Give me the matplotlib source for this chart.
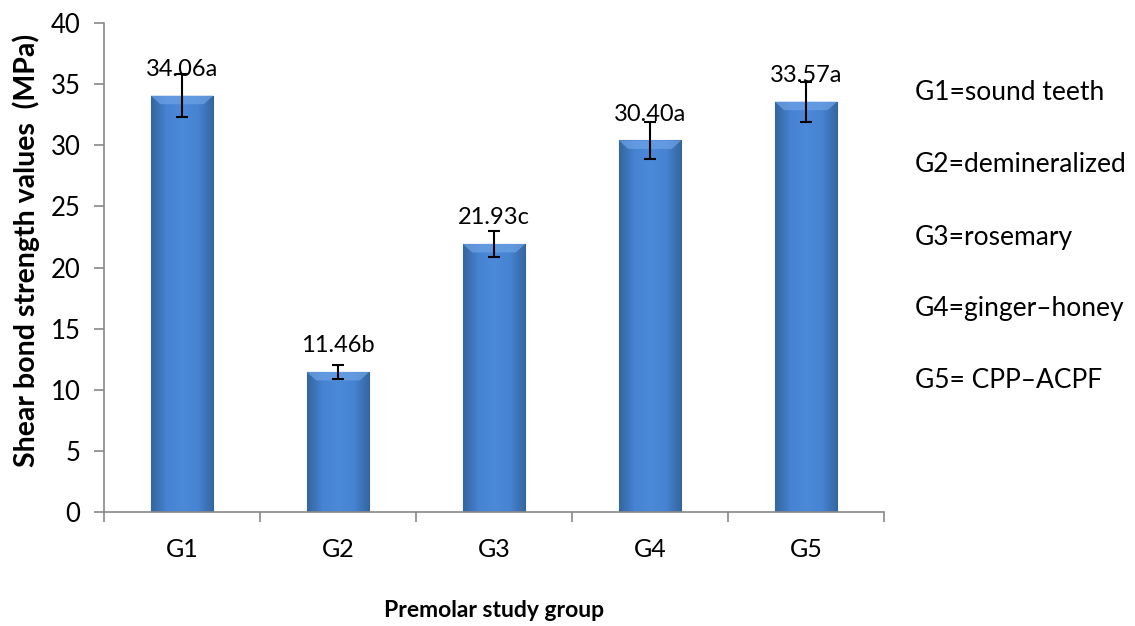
import numpy as np
import matplotlib
matplotlib.use("Agg")
import matplotlib.pyplot as plt
from matplotlib.colors import LinearSegmentedColormap

groups = ["G1", "G2", "G3", "G4", "G5"]
means = [34.06, 11.46, 21.93, 30.40, 33.57]
errors = [1.75, 0.57, 1.06, 1.50, 1.63]
letters = ["a", "b", "c", "a", "a"]
legend_lines = ["G1=sound teeth", "G2=demineralized", "G3=rosemary",
                "G4=ginger\u2013honey", "G5= CPP\u2013ACPF"]

plt.rcParams['font.family'] = ['Lato', 'DejaVu Sans']

fig = plt.figure(figsize=(11.35, 6.26), dpi=100)
ax = fig.add_axes([104/1135, (626-512)/626, (884-104)/1135, (512-23)/626])

x = np.arange(len(groups))
bars = ax.bar(x, means, width=0.4, color='#4a84d0', edgecolor='#3a68a8',
              linewidth=0.8, zorder=2)

# horizontal shading so the bars look like the 3D-ish excel bars
cmap = LinearSegmentedColormap.from_list(
    "barshade", ["#34659f", "#4683d2", "#4b8ad9", "#4683d2", "#34659f"])
grad = np.linspace(0, 1, 200).reshape(1, -1)
for b in bars:
    x0, y0 = b.get_x(), b.get_y()
    w, h = b.get_width(), b.get_height()
    im = ax.imshow(grad, cmap=cmap, aspect='auto', extent=[x0, x0 + w, y0, y0 + h],
                   zorder=2.5, interpolation='bicubic')
    im.set_clip_path(b)
    # lighter bevel at the top
    ax.fill([x0, x0 + w, x0 + w*0.85, x0 + w*0.15], [h, h, h - 0.7, h - 0.7],
            color='#6ea3e6', alpha=0.7, zorder=2.6, lw=0)

ax.errorbar(x, means, yerr=errors, fmt='none', ecolor='black', elinewidth=1.5,
            capsize=4.3, capthick=1.5, zorder=4)

for xi, m, l in zip(x, means, letters):
    ax.annotate(f"{m:.2f}{l}", (xi, m), xytext=(0, 14), textcoords='offset points',
                ha='center', va='baseline', fontsize=17, zorder=5)

ax.set_xlim(-0.5, len(groups) - 0.5)
ax.set_ylim(0, 40)
ax.set_yticks(range(0, 41, 5))
ax.set_xticks(x)
ax.set_xticklabels(groups)
ax.set_xticks(np.arange(-0.5, len(groups), 1), minor=True)
ax.tick_params(axis='x', which='major', length=0, pad=19, labelsize=18)
ax.tick_params(axis='x', which='minor', length=7, color='#888888', width=1.2)
ax.tick_params(axis='y', length=7, color='#888888', width=1.2, labelsize=18.5, pad=10)

for s in ['top', 'right']:
    ax.spines[s].set_visible(False)
for s in ['left', 'bottom']:
    ax.spines[s].set_color('#888888')
    ax.spines[s].set_linewidth(1.2)

ax.set_ylabel("Shear bond strength values  (MPa)", fontsize=20.5, fontweight='bold')
ax.yaxis.set_label_coords(-0.082, 0.535)
ax.set_xlabel("Premolar study group", fontsize=16.5, fontweight='bold', labelpad=28)

for i, t in enumerate(legend_lines):
    fig.text(915/1135, 1 - (93 + i*72)/626, t, fontsize=19, va='center', ha='left')

fig.savefig("out.png", dpi=100)
